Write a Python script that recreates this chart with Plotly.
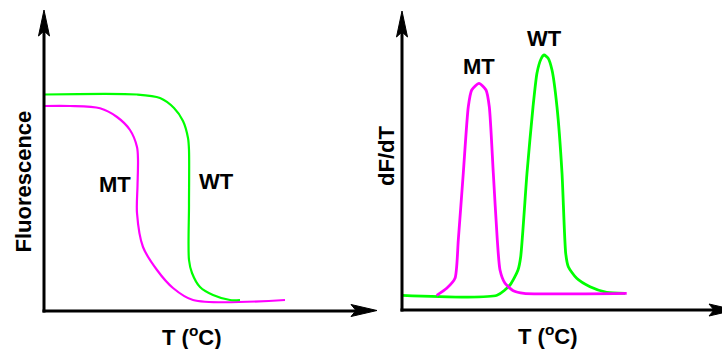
import plotly.graph_objects as go

W, H = 722, 349

# ---------------- data (arbitrary units) ----------------
# Left panel: melting curves, fluorescence vs temperature
wt_melt_T = [0, 93, 116, 130, 139, 144, 145, 145, 145, 148, 156, 169, 186, 196]
wt_melt_F = [216.5, 216.5, 213, 203, 190, 173, 161, 106, 51, 38, 24, 16, 11, 11]

mt_melt_T = [0, 26, 56, 73, 86, 93, 94, 93.5, 93, 99, 113, 129, 149, 241]
mt_melt_F = [205, 205, 202.7, 194, 181, 164, 151, 125, 98, 64, 41, 23, 11, 11]

# Right panel: derivative curves, dF/dT vs temperature
wt_deriv_T = [0, 95, 108, 116, 118.7, 125, 131, 135, 139, 142, 146, 150, 155, 160,
              163.7, 166.3, 174.7, 188, 204.7, 223]
wt_deriv_D = [14.7, 14.7, 25, 40, 53.3, 137, 203, 237, 251, 255, 252, 240, 203, 137,
              56.7, 43.3, 31.7, 23.3, 17.7, 16.7]

mt_deriv_T = [34.7, 44.7, 53, 56.3, 61.3, 66.3, 69.7, 77, 84, 87.3, 91.3, 95.3, 98,
              103, 111.3, 122, 224.7]
mt_deriv_D = [14.7, 21.7, 31.7, 70, 137, 203.3, 220, 226.7, 220, 203.3, 137, 70, 40,
              26.7, 19.3, 16.7, 16.7]

labels_left = ["MT", "WT"]
labels_right = ["MT", "WT"]
x_title = "T (<sup>o</sup>C)"
y_title_left = "Fluorescence"
y_title_right = "dF/dT"

GREEN = "#00ff00"
MAGENTA = "#ff00ff"
FONT = dict(family="Liberation Sans, Arial, sans-serif", size=22, color="black", weight="bold")


def px(x):
    return x / W


def py(y):
    return 1 - y / H


fig = go.Figure()

# left panel (magenta under green)
fig.add_trace(go.Scatter(x=mt_melt_T, y=mt_melt_F, mode="lines",
                         line=dict(color=MAGENTA, width=2.2, shape="spline", smoothing=0.85),
                         xaxis="x", yaxis="y", hoverinfo="skip"))
fig.add_trace(go.Scatter(x=wt_melt_T, y=wt_melt_F, mode="lines",
                         line=dict(color=GREEN, width=2.2, shape="spline", smoothing=0.85),
                         xaxis="x", yaxis="y", hoverinfo="skip"))
# right panel
fig.add_trace(go.Scatter(x=wt_deriv_T, y=wt_deriv_D, mode="lines",
                         line=dict(color=GREEN, width=2.8, shape="spline", smoothing=0.6),
                         xaxis="x2", yaxis="y2", hoverinfo="skip"))
fig.add_trace(go.Scatter(x=mt_deriv_T, y=mt_deriv_D, mode="lines",
                         line=dict(color=MAGENTA, width=2.8, shape="spline", smoothing=0.6),
                         xaxis="x2", yaxis="y2", hoverinfo="skip"))

axis_common = dict(visible=False, fixedrange=True)
fig.update_layout(
    width=W, height=H,
    margin=dict(l=0, r=0, t=0, b=0),
    paper_bgcolor="white", plot_bgcolor="white",
    showlegend=False,
    xaxis=dict(domain=[px(44), px(377)], range=[0, 333], anchor="y", **axis_common),
    yaxis=dict(domain=[py(311), py(10)], range=[0, 301], anchor="x", **axis_common),
    xaxis2=dict(domain=[px(402), 1.0], range=[0, 320], anchor="y2", **axis_common),
    yaxis2=dict(domain=[py(310), py(10)], range=[0, 300], anchor="x2", **axis_common),
)

# axes drawn as arrows (decoration)
shapes = []


def line(x0, y0, x1, y1):
    shapes.append(dict(type="line", xref="paper", yref="paper",
                       x0=px(x0), y0=py(y0), x1=px(x1), y1=py(y1),
                       line=dict(color="black", width=3), layer="above"))


def arrow_up(x, tip):
    path = "M{},{} L{},{} L{},{} L{},{} Z".format(
        px(x), py(tip), px(x + 5.5), py(tip + 26), px(x), py(tip + 21), px(x - 5.5), py(tip + 26))
    shapes.append(dict(type="path", xref="paper", yref="paper", path=path,
                       fillcolor="black", line=dict(color="black", width=1), layer="above"))


def arrow_right(y, tip):
    path = "M{},{} L{},{} L{},{} L{},{} Z".format(
        px(tip), py(y), px(tip - 26), py(y - 6), px(tip - 21), py(y), px(tip - 26), py(y + 6))
    shapes.append(dict(type="path", xref="paper", yref="paper", path=path,
                       fillcolor="black", line=dict(color="black", width=1), layer="above"))


line(44, 312.5, 44, 30)
line(42.5, 311, 360, 311)
arrow_up(44, 10)
arrow_right(310.5, 377)

line(402, 311.5, 402, 30)
line(400.5, 310, 716, 310)
arrow_up(402, 11)
arrow_right(310, 735)

fig.update_layout(shapes=shapes)

ann = []


def text(x, y, s, angle=0):
    ann.append(dict(x=px(x), y=py(y), xref="paper", yref="paper", text=s, showarrow=False,
                    xanchor="center", yanchor="middle", textangle=angle, font=FONT))


text(115, 184.5, labels_left[0])
text(216.5, 182, labels_left[1])
text(479, 66, labels_right[0])
text(544.5, 38, labels_right[1])
text(192, 336, x_title)
text(548, 335, x_title)
text(23.5, 182, y_title_left, -90)
text(386.5, 156.5, y_title_right, -90)

fig.update_layout(annotations=ann)

fig.write_html(
    "out.html",
    config={"displayModeBar": False, "staticPlot": True},
    post_script="document.body.style.margin='0';document.body.style.overflow='hidden';",
)
